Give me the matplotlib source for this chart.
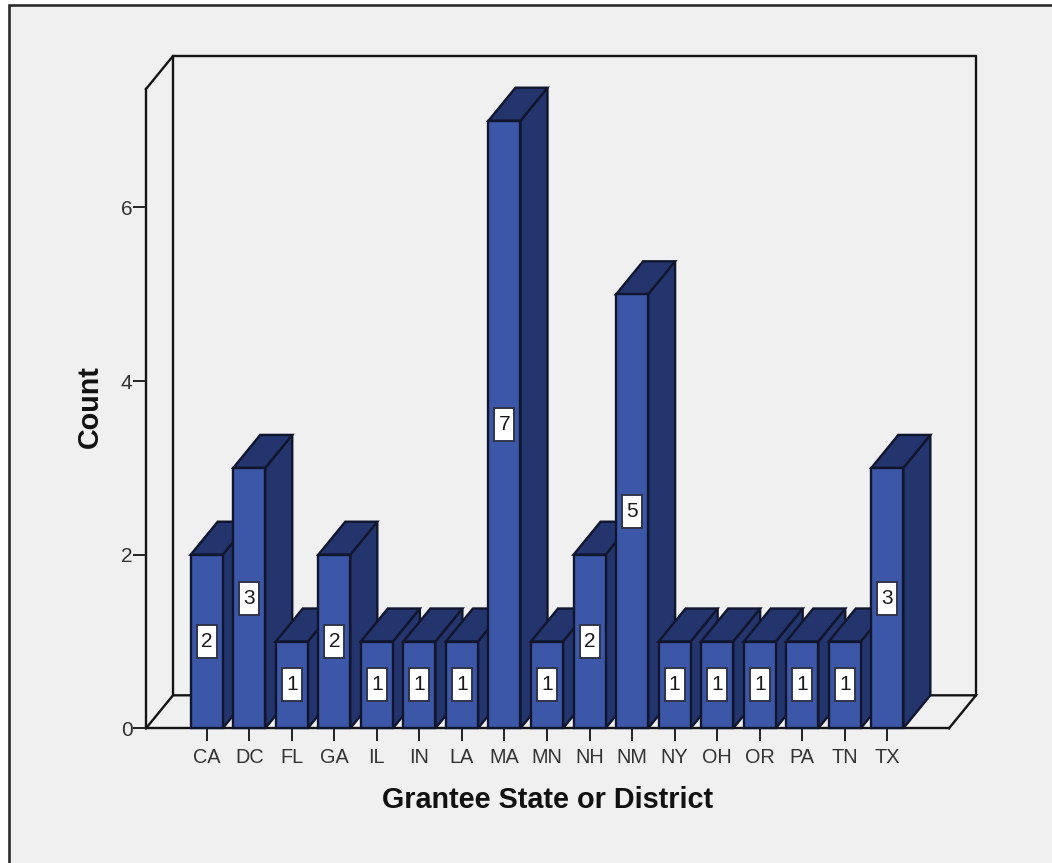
import matplotlib
matplotlib.use("Agg")
import matplotlib.pyplot as plt
from matplotlib.patches import Polygon, Rectangle
from matplotlib.path import Path

states = ["CA", "DC", "FL", "GA", "IL", "IN", "LA", "MA", "MN",
          "NH", "NM", "NY", "OH", "OR", "PA", "TN", "TX"]
counts = [2, 3, 1, 2, 1, 1, 1, 7, 1, 2, 5, 1, 1, 1, 1, 1, 3]
count_ticks = [0, 2, 4, 6]

W, H = 1052, 863
BG = "#F0F0F0"
FRONT = "#3C57A8"
DARK = "#24346C"
INK = "#141414"
BAR_EDGE = "#10162E"
px_per_cat = 42.54
px_per_unit = 86.8

plt.rcParams["font.family"] = ["Liberation Sans", "DejaVu Sans"]
fig = plt.figure(figsize=(W / 100, H / 100), dpi=100, facecolor="white")

# Panel background with its frame; right and bottom edges run off the canvas
fig.add_artist(Rectangle((9 / W, -0.02), 1.02, 1.02 - 5 / H, transform=fig.transFigure,
                         fc=BG, ec="#2A2A2A", lw=1.9, zorder=-5))

# Axes occupy the front plane of the 3-D box
left, right, top, bottom = 146, 949, 89, 728.3
ax = fig.add_axes([left / W, 1 - bottom / H, (right - left) / W, (bottom - top) / H])
ax.patch.set_visible(False)
x_first = 206.7
ax.set_xlim((left - x_first) / px_per_cat, (right - x_first) / px_per_cat)
ax.set_ylim(0, (bottom - top) / px_per_unit)
x0, x1 = ax.get_xlim()
y0, y1 = ax.get_ylim()

# Oblique depth of the box, in data units
dx = 27 / px_per_cat
dy = 33 / px_per_unit

line = dict(color=INK, lw=1.7, clip_on=False, solid_joinstyle="miter", zorder=1)
ax.plot([x0, x0 + dx, x1 + dx, x1 + dx], [y1, y1 + dy, y1 + dy, dy], **line)
ax.plot([x0 + dx, x0 + dx], [y1 + dy, dy], **line)
ax.plot([x0, x0 + dx, x1 + dx, x1], [y0, dy, dy, y0], **line)

for spine in ("top", "right"):
    ax.spines[spine].set_visible(False)
for spine in ("left", "bottom"):
    ax.spines[spine].set_linewidth(1.7)
    ax.spines[spine].set_color(INK)
    ax.spines[spine].set_zorder(1)

half = 16 / px_per_cat


def label_box(bx, by, w, h, mutation_size):
    cx, cy = bx + w / 2, by + h / 2
    a, b = 10, 16.5
    return Path([(cx - a, cy - b), (cx + a, cy - b), (cx + a, cy + b),
                 (cx - a, cy + b), (cx - a, cy - b)], closed=True)


# Bars are painted left to right so each front face hides its neighbour's side
for i, (state, n) in enumerate(zip(states, counts)):
    z = 3 + i
    edge = dict(ec=BAR_EDGE, lw=1.7, joinstyle="miter", clip_on=False, zorder=z)
    l, r = i - half, i + half
    ax.add_patch(Polygon([(r, 0), (r + dx, dy), (r + dx, n + dy), (r, n)], fc=DARK, **edge))
    ax.add_patch(Polygon([(l, n), (r, n), (r + dx, n + dy), (l + dx, n + dy)], fc=DARK, **edge))
    ax.bar(i, n, width=2 * half, color=FRONT, edgecolor=BAR_EDGE, linewidth=1.7, zorder=z,
           clip_on=False)
    ax.text(i, n / 2, str(n), ha="center", va="center", fontsize=15, color="#1A1A1A",
            zorder=z + 0.5,
            bbox=dict(boxstyle=label_box, fc="white", ec="#30354A", lw=1.4))

ax.set_xticks(range(len(states)), states)
ax.set_yticks(count_ticks)
ax.tick_params(axis="both", length=9.4, width=1.4, color="#222222",
               labelcolor="#333333", labelsize=14.3)
ax.tick_params(axis="x", pad=4.5)
ax.tick_params(axis="y", pad=0.3, labelsize=15)

fig.text(548 / W, 1 - 800 / H, "Grantee State or District", ha="center", va="center",
         fontsize=20.7, fontweight="bold", color="#111111")
fig.text(90 / W, 1 - 407 / H, "Count", ha="center", va="center", rotation=90,
         fontsize=20.7, fontweight="bold", color="#111111")

fig.savefig("out.png", dpi=100, facecolor="white")
